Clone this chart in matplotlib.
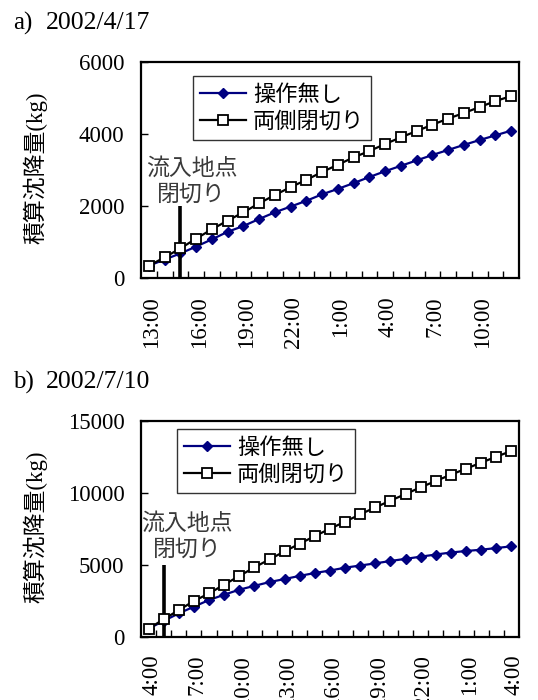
import matplotlib
matplotlib.use('Agg')
import matplotlib.pyplot as plt
import matplotlib.transforms as mtransforms
import numpy as np

plt.rcParams['font.family'] = ['Liberation Serif', 'Noto Sans CJK JP']

# ---- data ----
times_a = ['13:00', '14:00', '15:00', '16:00', '17:00', '18:00', '19:00', '20:00',
           '21:00', '22:00', '23:00', '0:00', '1:00', '2:00', '3:00', '4:00',
           '5:00', '6:00', '7:00', '8:00', '9:00', '10:00', '11:00', '12:00']
none_a = [350, 520, 690, 880, 1080, 1290, 1450, 1645, 1830, 1990, 2150, 2330,
          2480, 2640, 2810, 2970, 3120, 3270, 3420, 3560, 3700, 3835, 3965, 4095]
both_a = [350, 580, 830, 1100, 1360, 1600, 1830, 2080, 2310, 2530, 2730, 2950,
          3150, 3355, 3530, 3725, 3910, 4085, 4260, 4430, 4585, 4750, 4915, 5055]

times_b = ['4:00', '5:00', '6:00', '7:00', '8:00', '9:00', '10:00', '11:00', '12:00',
           '13:00', '14:00', '15:00', '16:00', '17:00', '18:00', '19:00', '20:00',
           '21:00', '22:00', '23:00', '0:00', '1:00', '2:00', '3:00', '4:00']
none_b = [560, 1100, 1620, 2090, 2550, 2920, 3270, 3535, 3800, 4010, 4230, 4430, 4600,
          4800, 4950, 5100, 5265, 5415, 5565, 5715, 5855, 5960, 6050, 6165, 6285]
both_b = [560, 1210, 1855, 2480, 3010, 3620, 4220, 4820, 5380, 5935, 6470, 7000, 7510,
          8000, 8510, 8995, 9460, 9925, 10390, 10830, 11270, 11685, 12105, 12520, 12915]

series_names = ['操作無し', '両側閉切り']
annotation = '流入地点\n閉切り'
ylabel = '積算沈降量(kg)'

fig = plt.figure(figsize=(5.38, 7.0), dpi=100)
W, H = 538.0, 700.0
CJK = ['Noto Sans CJK JP', 'Liberation Serif']


def panel(rect, times, none, both, ymax, ystep, bar_idx, bar_top, ann_xy, leg_anchor):
    ax = fig.add_axes(rect)
    n = len(times)
    x = np.arange(n)
    ax.plot(x, none, color='#000080', lw=1.6, marker='D', ms=5.5,
            mfc='#000080', mec='#000080', zorder=3, label=series_names[0])
    ax.vlines(bar_idx, 0, bar_top, color='black', lw=2.6, zorder=4)
    ax.plot(x, both, color='black', lw=1.6, marker='s', ms=7,
            mfc='white', mec='black', mew=1.3, zorder=5, label=series_names[1])
    ax.text(ann_xy[0], ann_xy[1], annotation, ha='center', va='center',
            fontsize=16.5, color='#3a3a3a', family=CJK, linespacing=1.15, zorder=6)
    ax.set_xlim(-0.5, n - 0.5)
    ax.set_ylim(0, ymax)
    ax.set_yticks(np.arange(0, ymax + 1, ystep))
    ax.set_xticks(x[::3])
    ax.set_xticklabels(times[::3])
    ax.set_xticks(np.arange(0.5, n - 1, 1.0), minor=True)
    ax.tick_params(axis='x', which='major', length=0, pad=13, labelrotation=90,
                   labelsize=16.5)
    ax.tick_params(axis='x', which='minor', direction='in', length=5, width=1)
    ax.tick_params(axis='y', direction='in', length=5, width=1, pad=12,
                   labelsize=16.5)
    shift = mtransforms.ScaledTranslation(3 / 100, 0, fig.dpi_scale_trans)
    for lab in ax.get_xticklabels():
        lab.set_transform(lab.get_transform() + shift)
    for s in ax.spines.values():
        s.set_linewidth(1.6)
    leg = ax.legend(loc='upper left', bbox_to_anchor=leg_anchor, frameon=True,
                    fancybox=False, edgecolor='black', prop={'family': CJK, 'size': 16},
                    handlelength=2.1, handletextpad=0.3, borderpad=0.3,
                    labelspacing=0.2, borderaxespad=0)
    leg.get_frame().set_linewidth(1.0)
    return ax


# top panel
panel([141 / W, 1 - 278.3 / H, 378 / W, 216.3 / H], times_a, none_a, both_a,
      6000, 2000, 2, 2000, (2.7, 2690), (0.138, 0.935))
fig.text(13 / W, 1 - 23 / H, 'a)', va='center', ha='left', fontsize=18)
fig.text(46 / W, 1 - 23 / H, '2002/4/17', va='center', ha='left', fontsize=18.5)
fig.text(35 / W, 1 - 168 / H, ylabel, rotation=90, ha='center', va='center',
         fontsize=16.5)

# bottom panel
panel([141 / W, 1 - 636.7 / H, 378 / W, 215.7 / H], times_b, none_b, both_b,
      15000, 5000, 1, 5000, (2.54, 6968), (0.095, 0.963))
fig.text(13 / W, 1 - 382 / H, 'b)', va='center', ha='left', fontsize=18)
fig.text(46 / W, 1 - 382 / H, '2002/7/10', va='center', ha='left', fontsize=18.5)
fig.text(35 / W, 1 - 527 / H, ylabel, rotation=90, ha='center', va='center',
         fontsize=16.5)

fig.savefig('out.png', dpi=100)
